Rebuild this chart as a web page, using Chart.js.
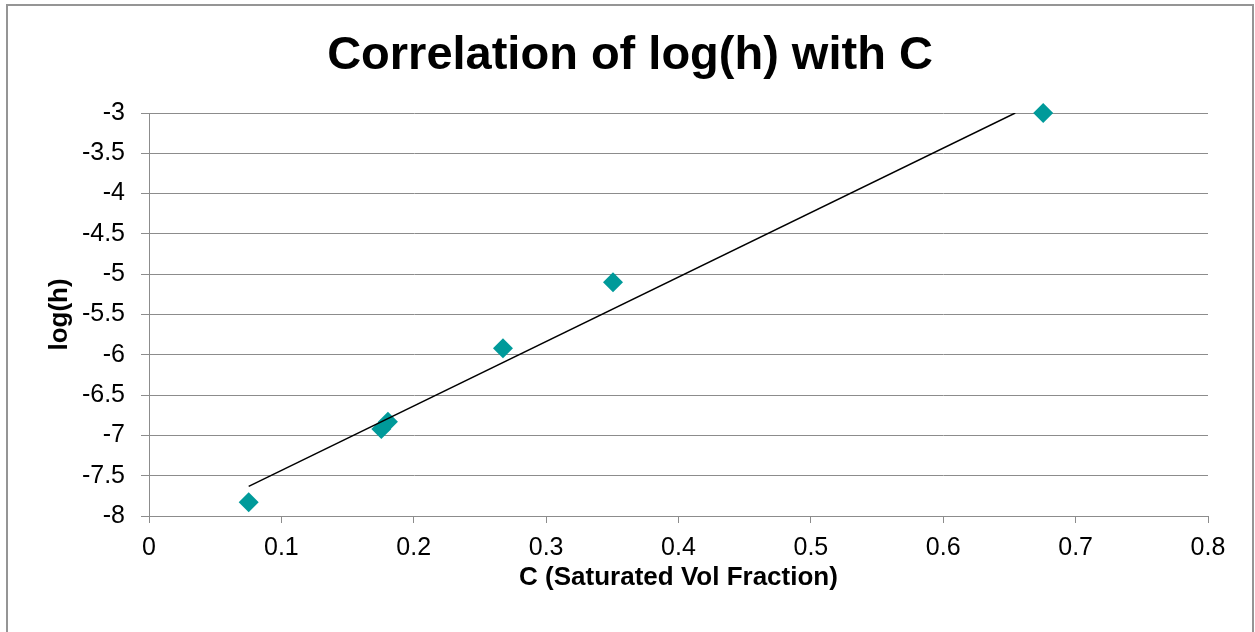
<!DOCTYPE html>
<html>
<head>
<meta charset="utf-8">
<script src="https://cdn.jsdelivr.net/npm/chart.js@4.4.1/dist/chart.umd.min.js"></script>
<style>
  html, body { margin: 0; padding: 0; background: #fff; overflow: hidden; }
  #frame { position: absolute; left: 6px; top: 4px; width: 1244px; height: 700px; border: 2px solid #959595; }
  #wrap { position: absolute; left: 0; top: 0; width: 1255px; height: 632px; }
</style>
</head>
<body>
<div id="frame"></div>
<div id="wrap"><canvas id="corrChart" width="1255" height="632"></canvas></div>
<script>
    // data
    var cValues = [0.0753, 0.1755, 0.1805, 0.2674, 0.3505, 0.6755];
    var logHValues = [-7.83, -6.92, -6.83, -5.92, -5.10, -3.00];
    // linear trendline end points
    var trendC = [0.0753, 0.6544];
    var trendLogH = [-7.633, -3.0];
    var xTickLabels = ['0', '0.1', '0.2', '0.3', '0.4', '0.5', '0.6', '0.7', '0.8'];
    var yTickLabels = ['-3', '-3.5', '-4', '-4.5', '-5', '-5.5', '-6', '-6.5', '-7', '-7.5', '-8'];

    var font = "'Liberation Sans', Arial, sans-serif";
    var gridColor = '#8c8c8c';

    function pairs(xs, ys) {
        return xs.map(function (x, i) { return { x: x, y: ys[i] }; });
    }
    function pickLabel(list, value) {
        for (var i = 0; i < list.length; i++) {
            if (Math.abs(Number(list[i]) - value) < 1e-6) return list[i];
        }
        return '';
    }

    var ctx = document.getElementById('corrChart').getContext('2d');
    var corrChart = new Chart(ctx, {
        type: 'scatter',
        data: {
            datasets: [{
                label: 'Trendline',
                data: pairs(trendC, trendLogH),
                showLine: true,
                borderColor: '#000000',
                borderWidth: 1.5,
                pointRadius: 0,
                order: 0
            }, {
                label: 'log(h)',
                data: pairs(cValues, logHValues),
                pointStyle: 'rectRot',
                pointRadius: 10,
                pointBackgroundColor: '#009a9a',
                pointBorderColor: '#009a9a',
                pointBorderWidth: 0,
                clip: false,
                order: 1
            }]
        },
        options: {
            responsive: false,
            animation: false,
            layout: { padding: { left: 52, right: 47, top: 0, bottom: 0 } },
            plugins: {
                legend: { display: false },
                tooltip: { enabled: false },
                title: {
                    display: true,
                    text: 'Correlation of log(h) with C',
                    color: '#000',
                    font: { family: font, size: 47, weight: 'bold' },
                    padding: { top: 27.8, bottom: 28.8 }
                }
            },
            scales: {
                x: {
                    type: 'linear',
                    min: 0,
                    max: 0.8,
                    ticks: {
                        stepSize: 0.1,
                        color: '#000',
                        padding: 10,
                        font: { family: font, size: 25 },
                        callback: function (value) { return pickLabel(xTickLabels, value); }
                    },
                    grid: { drawOnChartArea: false, color: gridColor, tickLength: 7, lineWidth: 1 },
                    border: { display: true, color: gridColor, width: 1 },
                    title: {
                        display: true,
                        text: 'C (Saturated Vol Fraction)',
                        color: '#000',
                        font: { family: font, size: 26, weight: 'bold' },
                        padding: { top: 0, bottom: 38.4 }
                    },
                    afterFit: function (scale) { scale.height = 116; }
                },
                y: {
                    type: 'linear',
                    min: -8,
                    max: -3,
                    ticks: {
                        stepSize: 0.5,
                        color: '#000',
                        padding: 16,
                        font: { family: font, size: 25 },
                        callback: function (value) { return pickLabel(yTickLabels, value); }
                    },
                    grid: { color: gridColor, tickLength: 8, lineWidth: 1 },
                    border: { display: true, color: gridColor, width: 1 },
                    title: {
                        display: true,
                        text: 'log(h)',
                        color: '#000',
                        font: { family: font, size: 26, weight: 'bold' },
                        padding: { top: -7.6, bottom: 0 }
                    },
                    afterFit: function (scale) { scale.width = 97; }
                }
            }
        }
    });
</script>
</body>
</html>
